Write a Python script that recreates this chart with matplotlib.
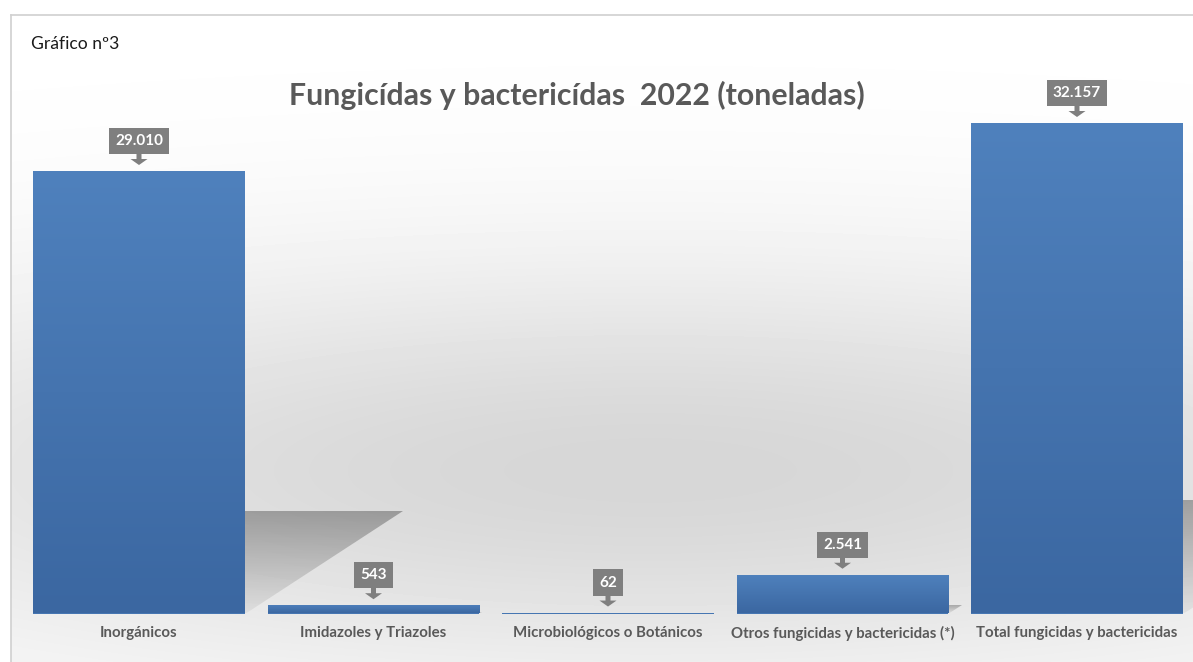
import numpy as np
import matplotlib.pyplot as plt
import matplotlib.transforms as transforms
from matplotlib.patches import Polygon
from matplotlib.colors import LinearSegmentedColormap

# data
categories = ['Inorgánicos', 'Imidazoles y Triazoles', 'Microbiológicos o Botánicos',
              'Otros fungicidas y bactericidas (*)', 'Total fungicidas y bactericidas']
values = [29010, 543, 62, 2541, 32157]
value_labels = ['29.010', '543', '62', '2.541', '32.157']
title = 'Fungicídas y bactericídas  2022 (toneladas)'
chart_number = 'Gráfico nº3'

plt.rcParams['font.family'] = ['Lato', 'DejaVu Sans']

W, H = 1193, 662
fig = plt.figure(figsize=(W / 100, H / 100), dpi=100)
fig.patch.set_facecolor('white')

# background: soft grey glow in the middle of the chart area
bg = fig.add_axes([0, 0, 1, 1], zorder=0)
yy, xx = np.mgrid[0:H, 0:W]
shade = 1 - 0.16 * np.exp(-((xx - 650) / 950.0) ** 2 - ((yy - 470) / 210.0) ** 2)
shade[(xx < 11) | (yy < 15)] = 1.0
bg.imshow(shade, cmap='gray', vmin=0, vmax=1, extent=[0, W, H, 0], aspect='auto',
          interpolation='bilinear')
bg.plot([11, 11], [15, H], color='#d0d0d0', lw=1.2)
bg.plot([11, W], [15, 15], color='#d0d0d0', lw=1.2)
bg.set_xlim(0, W)
bg.set_ylim(H, 0)
bg.axis('off')

# main axes
left, right = 21.75, 1194.25
base, top = 613.5, 100
px_per_unit = (base - 123) / 32157.0
ax = fig.add_axes([left / W, (H - base) / H, (right - left) / W, (base - top) / H], zorder=1)
ax.patch.set_alpha(0)

x = np.arange(len(categories))
width = 0.9
bars = ax.bar(x, values, width=width, color='#4676b2', zorder=3)

bar_cmap = LinearSegmentedColormap.from_list('bar', ['#3b67a1', '#4f81bd'])
grad = np.linspace(0, 1, 256).reshape(-1, 1)
for b in bars:
    im = ax.imshow(grad, cmap=bar_cmap, origin='lower', aspect='auto', zorder=4,
                   extent=[b.get_x(), b.get_x() + b.get_width(), 0, b.get_height()])
    im.set_clip_path(b)

# perspective shadows to the right of each bar
shadow_rgba = np.zeros((256, 1, 4))
shadow_rgba[:, 0, 3] = np.linspace(0.05, 0.3, 256)
for xi, v in zip(x, values):
    xr = xi + width / 2
    hs = 0.232 * v
    ext = 0.674 * v / 29010.0
    tri = Polygon([(xr, 0), (xr, hs), (xr + ext, hs)], closed=True,
                  facecolor='none', edgecolor='none')
    ax.add_patch(tri)
    im = ax.imshow(shadow_rgba, origin='lower', aspect='auto', zorder=2,
                   extent=[xr, xr + max(ext, 0.001), 0, max(hs, 1)],
                   interpolation='bilinear')
    im.set_clip_path(tri)

# value callouts: grey box with a down arrow
for xi, v, lab in zip(x, values, value_labels):
    ax.annotate(lab, xy=(xi, v), xytext=(0, 30), textcoords='offset pixels',
                ha='center', va='center', fontsize=11, fontweight='bold', color='white',
                bbox=dict(boxstyle='square,pad=0.4', fc='#7f7f7f', ec='none'), zorder=6)
    trans = fig.dpi_scale_trans + transforms.ScaledTranslation(xi, v, ax.transData)
    arrow = Polygon([(-0.025, 0.19), (0.025, 0.19), (0.025, 0.12), (0.085, 0.12),
                     (0, 0.06), (-0.085, 0.12), (-0.025, 0.12)], closed=True,
                    facecolor='#7f7f7f', edgecolor='none', transform=trans, zorder=6,
                    clip_on=False)
    ax.add_patch(arrow)

ax.set_xlim(-0.5, len(categories) - 0.5)
ax.set_ylim(0, (base - top) / px_per_unit)
ax.set_xticks(x)
ax.set_xticklabels(categories, fontsize=10.8, fontweight='bold', color='#595959')
ax.tick_params(axis='x', length=0, pad=9)
ax.set_yticks([])
for s in ax.spines.values():
    s.set_visible(False)

fig.text(577 / W, 1 - 95 / H, title, ha='center', va='center', fontsize=21.8,
         fontweight='bold', color='#595959')
fig.text(31 / W, 1 - 49 / H, chart_number, ha='left', va='baseline', fontsize=12.6,
         color='#1a1a1a')

fig.savefig('out.png', dpi=100)
